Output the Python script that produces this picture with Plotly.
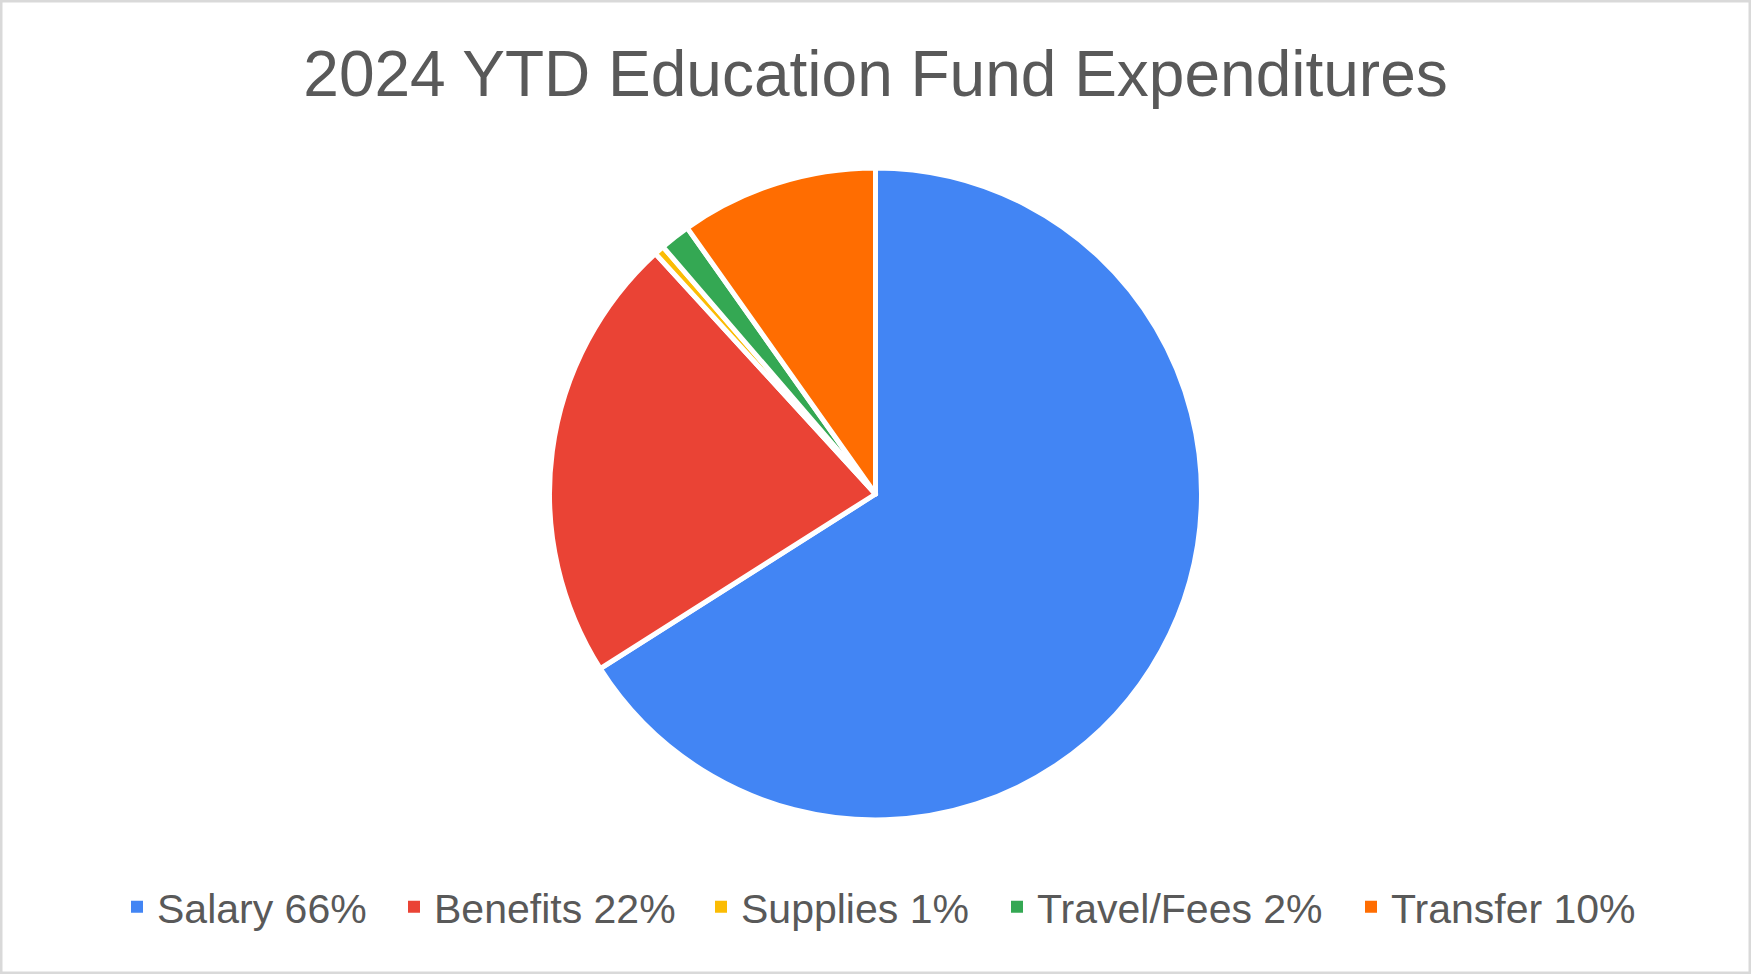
import plotly.graph_objects as go

categories = ["Salary", "Benefits", "Supplies", "Travel/Fees", "Transfer"]
legend_pct = ["66%", "22%", "1%", "2%", "10%"]
values = [66.0, 22.2, 0.5, 1.5, 9.8]
colors = ["#4285F4", "#EA4335", "#FBBC04", "#34A853", "#FF6D01"]

labels = [f"{c} {p}" for c, p in zip(categories, legend_pct)]

W, H = 1751, 974
cy, r = 494, 326
FONT = "Liberation Sans, Arial, sans-serif"
TXT = "#595959"

# left edges of the legend swatches (px)
legend_swatch_left = [131, 408, 715, 1011, 1365]
legend_cy = 907

fig = go.Figure()
fig.add_trace(go.Pie(
    labels=labels,
    values=values,
    sort=False,
    direction="clockwise",
    rotation=0,
    textinfo="none",
    showlegend=False,
    marker=dict(colors=colors, line=dict(color="white", width=5)),
    domain=dict(x=[0, 1], y=[1 - (cy + r) / H, 1 - (cy - r) / H]),
))

legend_layouts = {}
for i, (lab, col, xl) in enumerate(zip(labels, colors, legend_swatch_left)):
    lname = "legend" if i == 0 else f"legend{i + 1}"
    fig.add_trace(go.Scatter(
        x=[None], y=[None], mode="markers", name=lab,
        marker=dict(symbol="square", size=12, color=col, line=dict(width=0)),
        showlegend=True, legend=lname, hoverinfo="skip",
    ))
    legend_layouts[lname] = dict(
        orientation="h", x=(xl - 14) / W, xanchor="left",
        y=1 - legend_cy / H, yanchor="middle",
        font=dict(size=41, color=TXT, family=FONT),
        bgcolor="rgba(0,0,0,0)", borderwidth=0,
    )

fig.update_layout(
    width=W, height=H,
    margin=dict(l=0, r=0, t=0, b=0),
    paper_bgcolor="white",
    plot_bgcolor="rgba(0,0,0,0)",
    font=dict(family=FONT, color=TXT),
    xaxis=dict(visible=False),
    yaxis=dict(visible=False),
    title=dict(text="2024 YTD Education Fund Expenditures", x=0.5, xanchor="center",
               y=1 - 74 / H, yanchor="middle",
               font=dict(size=64, color=TXT, family=FONT)),
    shapes=[dict(type="rect", xref="paper", yref="paper", x0=0, x1=1, y0=0, y1=1,
                 line=dict(color="#D9D9D9", width=5), fillcolor="rgba(0,0,0,0)")],
    **legend_layouts,
)

fig.write_html("out.html", config={"displayModeBar": False},
               post_script="document.body.style.margin='0';")
